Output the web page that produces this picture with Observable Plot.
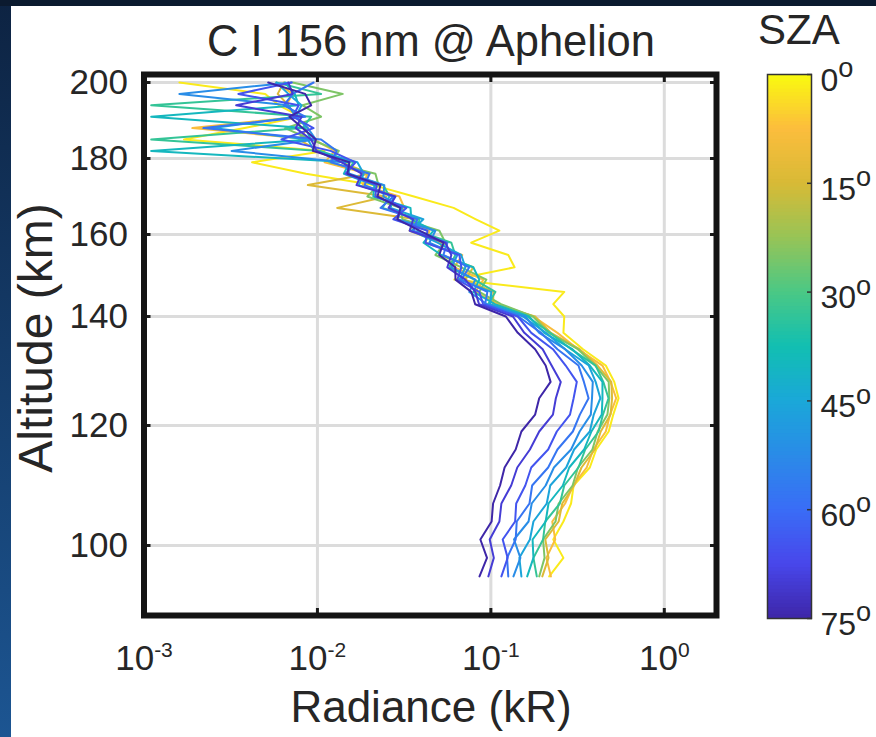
<!DOCTYPE html>
<html><head><meta charset="utf-8">
<script src="https://cdn.jsdelivr.net/npm/d3@7"></script>
<script src="https://cdn.jsdelivr.net/npm/@observablehq/plot@0.6"></script>
<style>
body{margin:0;background:#fff;}
#wrap{position:relative;width:876px;height:737px;overflow:hidden;background:#fff;font-family:"Liberation Sans",Arial,sans-serif;color:#262626;}
.t{position:absolute;white-space:nowrap;line-height:1;}
</style></head><body>
<div id="wrap">
  <div id="main" style="position:absolute;left:0;top:0"></div>
  <div id="cbar" style="position:absolute;left:740px;top:0"></div>
  <div class="t" style="left:431px;top:19.6px;font-size:43.5px;transform:translateX(-50%)">C I 156 nm @ Aphelion</div>
  <div class="t" style="left:758px;top:8.5px;font-size:42px">SZA</div>
  <div class="t" style="left:431px;top:685px;font-size:44px;transform:translateX(-50%)">Radiance (kR)</div>
  <div class="t" style="left:35.5px;top:338px;font-size:48px;transform:translate(-50%,-50%) rotate(-90deg)">Altitude (km)</div>
  <div style="position:absolute;left:0;top:0;width:11px;height:737px;background:linear-gradient(#0d2342,#1c5592)"></div>
  <div style="position:absolute;left:0;top:0;width:876px;height:6px;background:#0b1a2f"></div>
</div>
<script>
// ---- data ----
const altitudes = [95,98,101,104,107,110,113,116,119,122,125,128,131,134,137,140,143,146,149,152,155,158,161,164,167,170,173,176,179,182,185,188,191,194,197,200];
const szaValues = [2, 8, 14, 25, 33, 40, 46, 52, 58, 65, 70, 75];
const rad_sza02 = [0.217,0.262,0.229,0.262,0.29,0.3,0.372,0.405,0.478,0.508,0.545,0.515,0.46,0.34,0.262,0.265,
  0.229,0.265,0.0616,0.137,0.126,0.077,0.112,0.082,0.061,0.036,0.021,0.0086,0.0042,0.011,0.0017,0.0038,0.008,0.006,0.005,0.0016];
const rad_sza08 = [0.222,0.209,0.235,0.226,0.268,0.298,0.357,0.39,0.46,0.487,0.528,0.49,0.44,0.318,0.242,0.176,
  0.110,0.0814,0.0906,0.0616,0.0684,0.042,0.0443,0.0282,0.0317,0.0297,0.0182,0.0195,0.011,0.0126,0.0095,0.0019,0.0078,0.0066,0.0072,0.0058];
const rad_sza14 = [0.198,0.215,0.206,0.246,0.258,0.302,0.333,0.398,0.43,0.49,0.5,0.495,0.412,0.325,0.222,0.18,
  0.103,0.1034,0.0713,0.0792,0.0504,0.0519,0.034,0.0372,0.013,0.025,0.0088,0.02,0.0138,0.0102,0.0078,0.0088,0.0075,0.0068,0.0059,0.0064];
const rad_sza25 = [0.19,0.204,0.2,0.236,0.246,0.296,0.318,0.385,0.413,0.47,0.482,0.478,0.4,0.318,0.216,0.175,
  0.1145,0.0858,0.0942,0.0676,0.0479,0.0547,0.0505,0.0309,0.0301,0.0194,0.0225,0.0216,0.0117,0.0133,0.0092,0.0065,0.0105,0.0082,0.014,0.0072];
const rad_sza33 = [0.184,0.176,0.2,0.206,0.25,0.265,0.32,0.35,0.418,0.443,0.477,0.445,0.402,0.29,0.22,0.162,
  0.0964,0.1062,0.0804,0.0576,0.0624,0.0592,0.0377,0.0387,0.0237,0.026,0.024,0.0149,0.0161,0.0104,0.0011,0.0082,0.0092,0.0011,0.0105,0.0058];
const rad_sza40 = [0.162,0.176,0.174,0.207,0.215,0.26,0.283,0.345,0.38,0.436,0.44,0.44,0.372,0.295,0.203,0.166,
  0.1058,0.0793,0.0858,0.0792,0.0518,0.0409,0.0467,0.0348,0.0344,0.021,0.0213,0.0142,0.0153,0.0011,0.0092,0.0085,0.0011,0.0078,0.0074,0.0065];
const rad_sza46 = [0.15,0.146,0.168,0.176,0.21,0.22,0.272,0.302,0.372,0.392,0.428,0.402,0.367,0.268,0.208,0.153,
  0.099,0.1006,0.0659,0.0713,0.0675,0.0492,0.0349,0.0408,0.0264,0.0274,0.0173,0.0185,0.017,0.0096,0.0088,0.0025,0.0075,0.0081,0.0068,0.0058];
const rad_sza52 = [0.135,0.148,0.136,0.165,0.172,0.207,0.231,0.29,0.325,0.377,0.383,0.387,0.334,0.268,0.19,0.158,
  0.0951,0.0751,0.0814,0.0592,0.0641,0.0442,0.0479,0.0289,0.0309,0.024,0.0243,0.0153,0.0143,0.0032,0.0098,0.0088,0.0075,0.0068,0.0016,0.0071];
const rad_sza58 = [0.126,0.124,0.139,0.141,0.167,0.173,0.214,0.242,0.297,0.326,0.366,0.344,0.32,0.242,0.195,0.144,
  0.0926,0.0955,0.0676,0.0751,0.0532,0.0562,0.0358,0.0377,0.0231,0.0274,0.0187,0.02,0.012,0.0129,0.0105,0.0022,0.0085,0.0064,0.0072,0.0095];
const rad_sza65 = [0.115,0.125,0.117,0.138,0.14,0.158,0.171,0.214,0.24,0.286,0.3,0.313,0.27,0.228,0.171,0.143,
  0.0902,0.0858,0.0641,0.0676,0.0658,0.042,0.0431,0.0274,0.0326,0.0216,0.0219,0.0145,0.0166,0.0119,0.0062,0.0095,0.0072,0.0078,0.0035,0.0071];
const rad_sza70 = [0.0967,0.104,0.0985,0.112,0.115,0.131,0.142,0.168,0.19,0.228,0.237,0.253,0.224,0.199,0.156,0.134,
  0.0855,0.0814,0.0713,0.0561,0.0592,0.0547,0.034,0.0357,0.0257,0.0282,0.0168,0.018,0.0138,0.0099,0.0092,0.0075,0.0081,0.0034,0.0072,0.0068];
const rad_sza75 = [0.086,0.095,0.087,0.101,0.103,0.113,0.12,0.139,0.15,0.18,0.19,0.221,0.207,0.18,0.143,0.122,
  0.0812,0.0772,0.0625,0.0624,0.0504,0.0533,0.0388,0.0289,0.0301,0.0222,0.0231,0.0149,0.0153,0.0094,0.0098,0.0082,0.0069,0.0092,0.0085,0.0052];
const profiles = [rad_sza02, rad_sza08, rad_sza14, rad_sza25, rad_sza33, rad_sza40, rad_sza46, rad_sza52, rad_sza58, rad_sza65, rad_sza70, rad_sza75];

const xTicks = [0.001, 0.01, 0.1, 1];
const yTicks = [100, 120, 140, 160, 180, 200];
const szaTicks = [0, 15, 30, 45, 60, 75];
// altitude axis of the reference is non-uniform: piecewise mapping of altitude (km) to axis position
const altBreaks = [89, 100, 120, 140, 160, 180, 200, 201];
const altAxisPos = [613, 545, 425, 316, 234, 158, 82, 78];
// parula-like colormap, from SZA 0 (yellow) to 75 (dark blue)
const parulaStops = ["#f9fb0e","#fcbd3d","#d8ba36","#98c456","#4bc885","#12bfb1","#1aa8d8","#2a8be8","#3a6df6","#4847eb","#3e26a8"];
const parula = d3.piecewise(d3.interpolateRgb, parulaStops);
const altWarp = d3.scaleLinear().domain(altBreaks).range(altAxisPos);

// tidy rows
const rows = [];
szaValues.forEach((s, i) => profiles[i].forEach((r, j) => rows.push({sza: s, alt: altitudes[j], r})));

const font = "Liberation Sans, Arial, sans-serif";
const gridStyle = {stroke: "#dcdcdc", strokeOpacity: 1, strokeWidth: 3};
const tickStyle = {tickSize: -7, tickFormat: () => "", stroke: "#1a1a1a", strokeWidth: 3, label: null};

const main = Plot.plot({
  width: 740, height: 737,
  marginLeft: 143.5, marginRight: 24, marginTop: 74, marginBottom: 122,
  style: {background: "transparent", fontFamily: font, color: "#262626", overflow: "visible"},
  x: {type: "log", domain: [0.001, 2]},
  y: {type: "linear", transform: d => altWarp(d), domain: [78, 613], range: [78, 613]},
  color: {type: "linear", domain: [0, 75], interpolate: parula},
  marks: [
    Plot.gridX(xTicks.slice(1), gridStyle),
    Plot.gridY(yTicks, gridStyle),
    Plot.line(rows, {x: "r", y: "alt", z: "sza", stroke: "sza", strokeWidth: 2}),
    Plot.axisX(xTicks, {anchor: "bottom", ...tickStyle}),
    Plot.axisX(xTicks, {anchor: "top", ...tickStyle}),
    Plot.axisY(yTicks, {anchor: "left", ...tickStyle}),
    Plot.axisY(yTicks, {anchor: "right", ...tickStyle}),
    Plot.axisX(xTicks, {anchor: "bottom", tickSize: 0, tickPadding: 30, fontSize: 35, label: null,
      tickFormat: d => "10|" + Math.round(Math.log10(d))}),
    Plot.axisY(yTicks, {anchor: "left", tickSize: 0, tickPadding: 16, fontSize: 35, label: null}),
    Plot.frame({stroke: "#141414", strokeWidth: 6})
  ]
});

const cbar = Plot.plot({
  width: 136, height: 737,
  marginLeft: 27, marginRight: 65, marginTop: 74, marginBottom: 119,
  style: {background: "transparent", fontFamily: font, color: "#262626", overflow: "visible"},
  x: {domain: [0, 1], axis: null},
  y: {domain: [0, 75], reverse: true},
  color: {type: "linear", domain: [0, 75], interpolate: parula},
  marks: [
    Plot.rect(d3.range(0, 75, 0.5), {x1: 0, x2: 1, y1: d => d, y2: d => Math.min(75, d + 0.7), fill: d => d + 0.25}),
    Plot.axisY(szaTicks, {anchor: "right", tickSize: -5, tickFormat: () => "", stroke: "#333", strokeWidth: 1.5, label: null}),
    Plot.axisY(szaTicks, {anchor: "right", tickSize: 0, tickPadding: 9, fontSize: 32, label: null, dy: 6,
      tickFormat: d => d + "|o"}),
    Plot.frame({stroke: "#333", strokeWidth: 1.5})
  ]
});

function supify(svg, size, shift) {
  svg.querySelectorAll("text").forEach(t => {
    const target = t.querySelector("tspan") || t;
    const s = target.textContent;
    if (!s.includes("|")) return;
    const [a, b] = s.split("|");
    target.textContent = a;
    const ts = document.createElementNS("http://www.w3.org/2000/svg", "tspan");
    ts.setAttribute("font-size", size);
    ts.setAttribute("dy", shift);
    ts.textContent = b;
    target.appendChild(ts);
  });
}
supify(main, "0.6em", "-0.65em");
supify(cbar, "0.85em", "-0.5em");

document.getElementById("main").appendChild(main);
document.getElementById("cbar").appendChild(cbar);
</script>
</body></html>
